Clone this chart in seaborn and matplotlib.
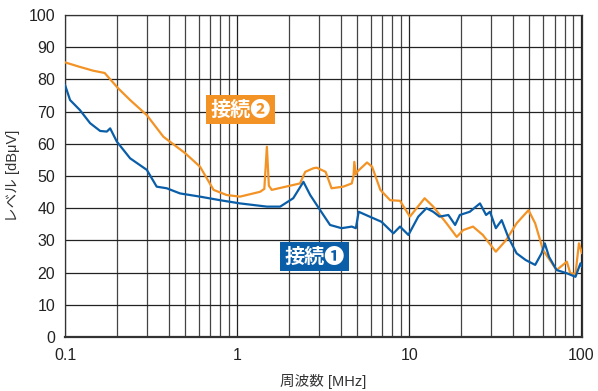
import numpy as np
import pandas as pd
import matplotlib
matplotlib.use("Agg")
import matplotlib.pyplot as plt
import seaborn as sns
from matplotlib.ticker import NullFormatter, LogLocator

sns.set_style("white")
plt.rcParams['font.family'] = ['Liberation Sans', 'Noto Sans CJK JP', 'DejaVu Sans']

# 接続❷ (orange)
freq2 = [0.1, 0.12, 0.146, 0.17, 0.204, 0.239, 0.299, 0.373, 0.499, 0.609, 0.73, 0.87,
         1.04, 1.36, 1.44, 1.49, 1.53, 1.59, 2.32, 2.49, 2.77, 2.9, 3.27, 3.54, 4.14,
         4.64, 4.75, 4.8, 4.9, 4.98, 5.69, 6.09, 6.8, 7.75, 8.85, 10.1, 12.3, 13.8,
         16.5, 18.9, 20.6, 23.5, 26.8, 31.9, 36.6, 42.1, 49.4, 54.0, 60.0, 71.9, 82.5,
         86.4, 92.6, 97.0, 101.0]
level2 = [85.3, 84.0, 82.7, 82.0, 77.2, 73.6, 68.9, 62.2, 57.1, 52.9, 45.7, 44.1,
          43.6, 45.1, 46.0, 59.1, 47.0, 45.7, 47.7, 51.3, 52.4, 52.6, 51.3, 46.2, 46.7,
          47.7, 50.0, 54.4, 50.5, 51.3, 54.2, 52.9, 45.7, 42.5, 42.3, 37.4, 43.1, 40.5,
          35.3, 31.1, 33.2, 34.3, 31.7, 26.5, 30.1, 35.3, 39.4, 35.3, 27.0, 20.8, 23.4,
          19.8, 19.6, 29.1, 26.0]

# 接続❶ (blue)
freq1 = [0.1, 0.107, 0.122, 0.14, 0.16, 0.175, 0.183, 0.2, 0.239, 0.299, 0.341, 0.39,
         0.466, 0.609, 0.795, 1.04, 1.49, 1.78, 2.12, 2.43, 2.66, 3.04, 3.47, 4.05,
         4.64, 4.9, 5.09, 5.89, 6.9, 8.1, 8.85, 9.9, 11.3, 12.6, 13.8, 15.0, 16.9,
         18.5, 19.7, 22.5, 25.8, 28.0, 29.5, 31.9, 34.5, 37.6, 42.1, 47.6, 54.0, 58.8,
         61.4, 65.0, 71.9, 82.5, 92.6, 99.0, 101.0]
level1 = [78.3, 73.6, 70.5, 66.4, 64.0, 63.8, 64.8, 60.7, 55.5, 51.9, 46.7, 46.2,
          44.6, 43.6, 42.5, 41.5, 40.5, 40.5, 43.1, 48.2, 44.1, 39.4, 34.8, 33.8,
          34.3, 33.8, 38.9, 37.4, 35.8, 32.2, 34.3, 31.7, 37.4, 40.0, 38.9, 37.4, 37.9,
          34.8, 37.9, 38.9, 41.5, 37.9, 38.9, 33.8, 36.3, 31.1, 26.0, 23.9, 22.4, 26.0,
          29.1, 24.9, 20.8, 19.8, 18.7, 22.9, 21.8]

yticks = [0, 10, 20, 30, 40, 50, 60, 70, 80, 90, 100]
xticks = [0.1, 1, 10, 100]
xtick_labels = ["0.1", "1", "10", "100"]

df1 = pd.DataFrame({"freq": freq1, "level": level1})
df2 = pd.DataFrame({"freq": freq2, "level": level2})

blue = "#0a5ea8"
orange = "#f39325"

fig = plt.figure(figsize=(5.98, 3.91), dpi=100)
ax = fig.add_axes([0.1087, 0.138, 0.8645, 0.8236])

sns.lineplot(data=df2, x="freq", y="level", ax=ax, color=orange, linewidth=1.6, zorder=3)
sns.lineplot(data=df1, x="freq", y="level", ax=ax, color=blue, linewidth=1.6, zorder=4)

ax.set_xscale("log")
ax.set_xlim(0.1, 101)
ax.set_ylim(0, 100)
ax.set_yticks(yticks)
ax.set_xticks(xticks)
ax.set_xticklabels(xtick_labels)
ax.xaxis.set_minor_locator(LogLocator(base=10, subs=np.arange(2, 10)))
ax.xaxis.set_minor_formatter(NullFormatter())
ax.grid(True, which="major", color="#222222", linewidth=0.9)
ax.grid(True, which="minor", axis="x", color="#444444", linewidth=0.9)
ax.tick_params(axis="both", which="both", length=0, labelsize=11.5, colors="#222222")
ax.tick_params(axis="x", pad=8)
ax.tick_params(axis="y", pad=7)
for s in ax.spines.values():
    s.set_color("#333333")
    s.set_linewidth(0.9)
ax.spines["bottom"].set_linewidth(1.6)

ax.set_xlabel("周波数 [MHz]", fontsize=10.5, color="#333333", labelpad=8)
ax.set_ylabel("レベル [dBμV]", fontsize=10.5, color="#333333", labelpad=6)

ax.text(0.7, 70.6, "接続❷", fontsize=14.5, color="white", fontweight="bold",
        family=['Noto Sans CJK JP', 'DejaVu Sans'], va="center", ha="left", zorder=6,
        bbox=dict(boxstyle="square,pad=0.2", fc=orange, ec="none"))
ax.text(1.88, 25.0, "接続❶", fontsize=14.5, color="white", fontweight="bold",
        family=['Noto Sans CJK JP', 'DejaVu Sans'], va="center", ha="left", zorder=6,
        bbox=dict(boxstyle="square,pad=0.2", fc=blue, ec="none"))

fig.savefig("out.png", dpi=100)
